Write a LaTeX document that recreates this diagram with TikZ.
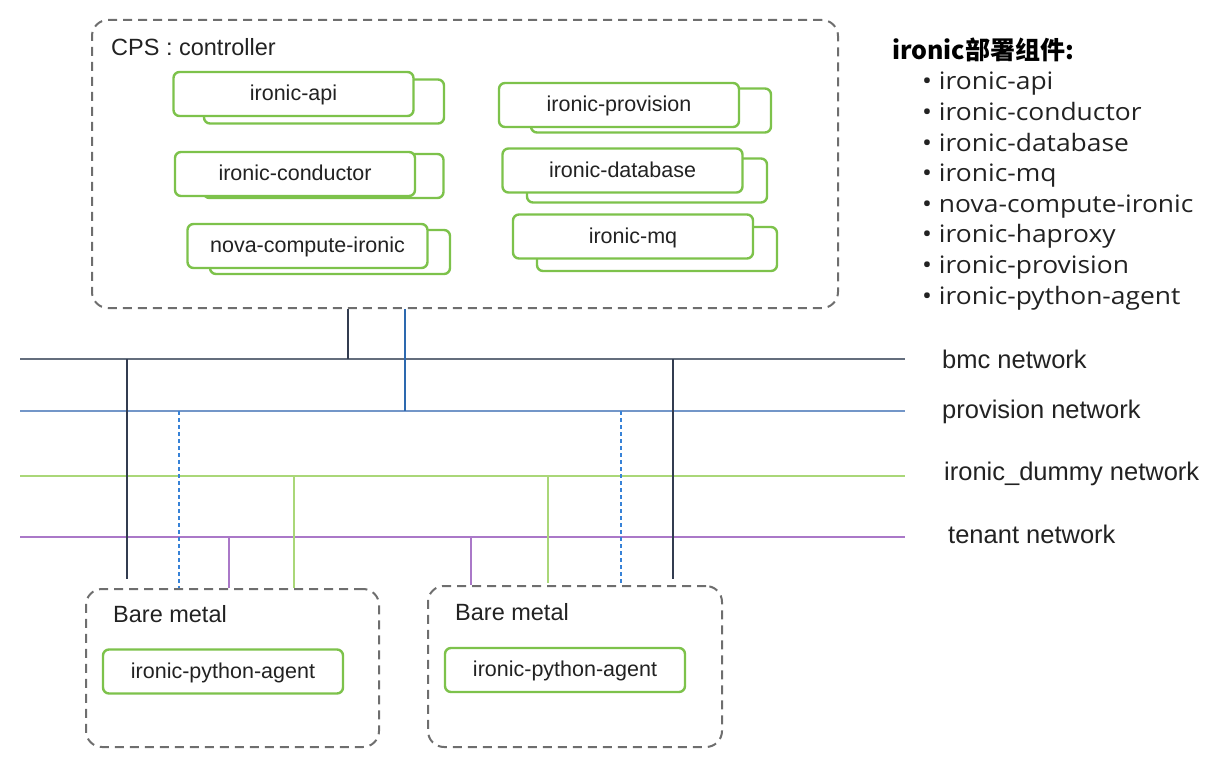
\documentclass[tikz,border=0pt]{standalone}
\usepackage{fontspec}
\setmainfont{Liberation Sans}
\newfontfamily\listfont[FakeStretch=1.1]{Open Sans}
\newfontfamily\cjkfont{Noto Sans CJK SC}
\usetikzlibrary{calc}
\definecolor{boxgreen}{RGB}{125,194,75}
\definecolor{dashgray}{RGB}{110,110,110}
\definecolor{txt}{RGB}{34,34,34}
\definecolor{bmch}{RGB}{100,110,125}
\definecolor{bmcv}{RGB}{50,60,80}
\definecolor{provh}{RGB}{115,150,200}
\definecolor{provv}{RGB}{45,105,175}
\definecolor{provd}{RGB}{55,130,215}
\definecolor{dummy}{RGB}{170,215,120}
\definecolor{tenant}{RGB}{170,120,200}
\begin{document}
\begin{tikzpicture}[x=1pt,y=-1pt,
  comp/.style={draw=boxgreen, line width=2.4pt, rounded corners=6pt, fill=white,
    minimum width=240pt, minimum height=44pt, inner sep=0pt, text=txt,
    text height=15.5pt, text depth=1.7pt,
    font=\fontsize{21.5}{25}\selectfont},
  backcomp/.style={comp},
  dbox/.style={draw=dashgray, line width=2pt, dash pattern=on 9pt off 6pt, rounded corners=16pt, inner sep=0pt},
  lbl/.style={anchor=base west, text=txt, inner sep=0pt, font=\fontsize{23.5}{27}\selectfont},
  netlbl/.style={anchor=base west, text=txt, inner sep=0pt, font=\fontsize{25.5}{29}\selectfont},
  listitem/.style={anchor=base west, text=txt, inner sep=0pt, font=\listfont\fontsize{24}{28}\selectfont},
  bmcH/.style={draw=bmch, line width=2pt},
  bmcV/.style={draw=bmcv, line width=2pt},
  provH/.style={draw=provh, line width=2pt},
  provV/.style={draw=provv, line width=2pt},
  provD/.style={draw=provd, line width=1.2pt, dash pattern=on 4pt off 3pt},
  dummyL/.style={draw=dummy, line width=2pt},
  tenantL/.style={draw=tenant, line width=2pt}
]
\useasboundingbox (0,0) rectangle (1232,770);

% controller box
\node[dbox, minimum width=746pt, minimum height=288pt] (ctrl) at (465,164) {};
\node[lbl] (ctrlL) at (111,56) {CPS : controller};

% stacked components (back first)
\node[backcomp] (apiB) at (324,101.5) {};
\node[comp] (api) at (293.5,94) {ironic-api};
\node[backcomp] (condB) at (323.5,176) {};
\node[comp] (cond) at (295,174) {ironic-conductor};
\node[backcomp] (novaB) at (330,252) {};
\node[comp] (nova) at (307.5,246) {nova-compute-ironic};
\node[backcomp] (provB) at (651,110.5) {};
\node[comp] (prov) at (619,105) {ironic-provision};
\node[backcomp] (dbB) at (647,180.5) {};
\node[comp] (db) at (622.5,170.5) {ironic-database};
\node[backcomp] (mqB) at (657,249) {};
\node[comp] (mq) at (633,236.5) {ironic-mq};

% bare metal boxes
\node[dbox, minimum width=293pt, minimum height=158pt] (bm1) at (232.5,668) {};
\node[lbl] (bm1L) at (113,622) {Bare metal};
\node[comp] (ipa1) at (223,671.5) {ironic-python-agent};
\node[dbox, minimum width=294pt, minimum height=161pt] (bm2) at (575,666.5) {};
\node[lbl] (bm2L) at (455,620) {Bare metal};
\node[comp] (ipa2) at (565,670) {ironic-python-agent};

% networks
\coordinate (bmcW) at (20,359);  \coordinate (bmcE) at (905,359);
\coordinate (provW) at (20,411); \coordinate (provE) at (905,411);
\coordinate (dumW) at (20,476);  \coordinate (dumE) at (905,476);
\coordinate (tenW) at (20,537);  \coordinate (tenE) at (905,537);
\draw[bmcH] (bmcW) -- (bmcE);
\draw[provH] (provW) -- (provE);
\draw[dummyL] (dumW) -- (dumE);
\draw[tenantL] (tenW) -- (tenE);
\node[netlbl] (bmcL) at (942,368) {bmc network};
\node[netlbl] (provL) at (942,418) {provision network};
\node[netlbl] (dumL) at (944,480) {ironic\_dummy network};
\node[netlbl] (tenL) at (948,543) {tenant network};

% controller taps
\coordinate (c1) at (348,359);
\coordinate (c2) at (405,411);
\draw[bmcV] (ctrl.south -| c1) -- (c1);
\draw[provV] (ctrl.south -| c2) -- (c2);

% bare metal 1 taps
\coordinate (b1) at (127,359);
\coordinate (p1) at (179,411);
\coordinate (t1) at (229,537);
\coordinate (d1) at (294,476);
\draw[bmcV] (b1) -- ($(b1 |- bm1.north)+(0,-9)$);
\draw[provD] (p1) -- (p1 |- bm1.north);
\draw[tenantL, line width=1.5pt] (t1) -- (t1 |- bm1.north);
\draw[dummyL, line width=1.5pt] (d1) -- (d1 |- bm1.north);

% bare metal 2 taps
\coordinate (t2) at (471,537);
\coordinate (d2) at (548,476);
\coordinate (p2) at (621,411);
\coordinate (b2) at (673,359);
\draw[tenantL, line width=1.5pt] (t2) -- (t2 |- bm2.north);
\draw[dummyL, line width=1.5pt] (d2) -- ($(d2 |- bm2.north)+(0,-2)$);
\draw[provD] (p2) -- (p2 |- bm2.north);
\draw[bmcV] (b2) -- ($(b2 |- bm2.north)+(0,-6)$);

% component list
\node[anchor=base west, text=black, inner sep=0pt, font=\cjkfont\bfseries\fontsize{25}{29}\selectfont] (title) at (892,60) {ironic部署组件:};
\node[listitem] (l1) at (922,90) {• ironic-api};
\node[listitem] (l2) at (922,120.6) {• ironic-conductor};
\node[listitem] (l3) at (922,151.2) {• ironic-database};
\node[listitem] (l4) at (922,181.8) {• ironic-mq};
\node[listitem] (l5) at (922,212.4) {• nova-compute-ironic};
\node[listitem] (l6) at (922,243) {• ironic-haproxy};
\node[listitem] (l7) at (922,273.6) {• ironic-provision};
\node[listitem] (l8) at (922,304.2) {• ironic-python-agent};
\end{tikzpicture}
\end{document}
